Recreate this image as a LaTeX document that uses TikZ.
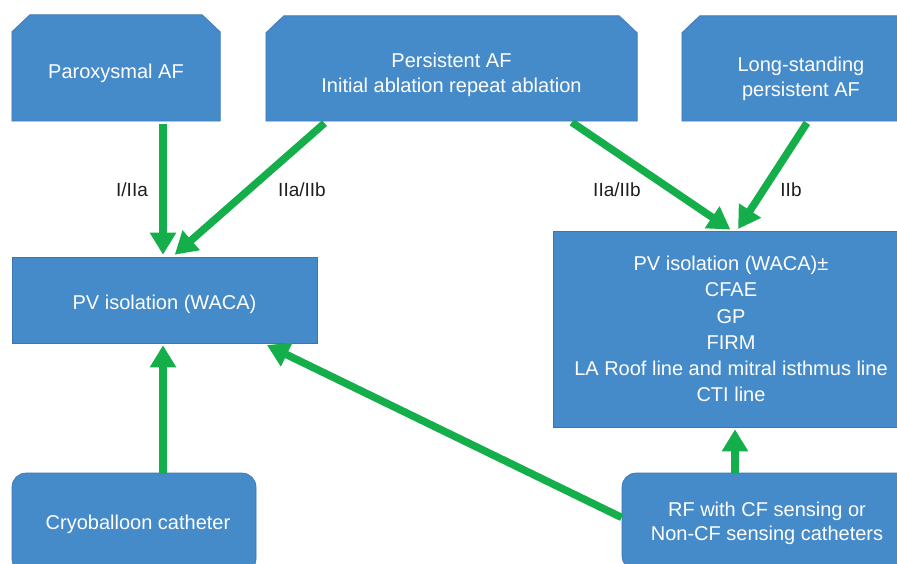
\documentclass[tikz,border=0pt]{standalone}
\usepackage{fontspec}
\setmainfont{Liberation Sans}
\usetikzlibrary{arrows.meta,calc,backgrounds}
\definecolor{boxblue}{RGB}{69,138,201}
\definecolor{boxedge}{RGB}{58,118,178}
\definecolor{arrgreen}{RGB}{20,175,75}
\definecolor{labgray}{RGB}{30,30,30}
\newcommand{\chamfbox}[1]{%
  \begin{scope}[on background layer]
    \filldraw[boxshape] (#1.south west) -- ($(#1.north west)+(0,17)$) -- ($(#1.north west)+(18,0)$)
      -- ($(#1.north east)+(-18,0)$) -- ($(#1.north east)+(0,17)$) -- (#1.south east) -- cycle;
  \end{scope}}
\begin{document}
\begin{tikzpicture}[x=1pt,y=-1pt,
  boxshape/.style={fill=boxblue,draw=boxedge,line width=0.6pt},
  txt/.style={text=white,align=center,font=\fontsize{20}{25}\selectfont,inner sep=0pt},
  plainbox/.style={boxshape,inner sep=0pt},
  roundbox/.style={txt,boxshape,rounded corners=14pt},
  arr/.style={draw=arrgreen,line width=7.5pt,-{Triangle[width=25pt,length=22pt]}},
  lab/.style={text=labgray,font=\fontsize{19}{23}\selectfont,inner sep=0pt}]
\useasboundingbox (0,0) rectangle (897,564);
\clip (0,0) rectangle (897,564);
% top row
\node[inner sep=0pt,minimum width=208pt,minimum height=106pt] (par) at (116,68) {};
\chamfbox{par}
\node[txt] (par-t) at (116,73.5) {Paroxysmal AF};
\node[inner sep=0pt,minimum width=371pt,minimum height=105pt] (per) at (451.5,68.5) {};
\chamfbox{per}
\node[txt] (per-t) at (451.5,74.5) {Persistent AF\\Initial ablation repeat ablation};
\node[inner sep=0pt,minimum width=238pt,minimum height=105pt] (lon) at (801,68.5) {};
\chamfbox{lon}
\node[txt,font=\fontsize{20}{24.5}\selectfont] (lon-t) at (801,79) {Long-standing\\persistent AF};
% middle row
\node[plainbox,minimum width=305pt,minimum height=86pt] (pv) at (164.5,300) {};
\node[txt] (pv-t) at (164.5,304) {PV isolation (WACA)};
\node[plainbox,minimum width=356pt,minimum height=196pt] (pvx) at (731,329) {};
\node[txt,font=\fontsize{20}{26.2}\selectfont] (pvx-t) at (731,329)
  {PV isolation (WACA)±\\CFAE\\GP\\FIRM\\LA Roof line and mitral isthmus line\\CTI line};
% bottom row
\node[roundbox,minimum width=244pt,minimum height=100pt] (cry) at (134,523) {};
\node[txt] (cry-t) at (138,524) {Cryoballoon catheter};
\node[roundbox,minimum width=292pt,minimum height=97pt] (rf) at (768,521.5) {};
\node[txt,font=\fontsize{20}{24}\selectfont] (rf-t) at (767,523) {RF with CF sensing or\\Non-CF sensing catheters};
% arrows
\draw[arr,shorten <=3pt,shorten >=2pt] ([xshift=47pt]par.south) -- ([xshift=-1.5pt]pv.north);
\draw[arr,shorten <=3pt,shorten >=3pt] ([xshift=61pt]per.south west) -- ([xshift=8pt]pv.north);
\draw[arr,shorten <=2pt,shorten >=2pt] ([xshift=-67pt]per.south east) -- ([xshift=1pt]pvx.north);
\draw[arr,shorten <=2pt,shorten >=2pt] ([xshift=7pt]lon.south) -- ([xshift=6pt]pvx.north);
\draw[arr,shorten >=2pt] ([xshift=29pt]cry.north) -- ([xshift=-1.5pt]pv.south);
\draw[arr,shorten >=4pt] ([yshift=4pt]rf.west) -- ([xshift=-54pt]pv.south east);
\draw[arr,shorten >=2pt] ([xshift=-33pt]rf.north) -- ([xshift=4pt]pvx.south);
% labels
\node[lab] (l1) at (132,190) {I/IIa};
\node[lab] (l2) at (302,190) {IIa/IIb};
\node[lab] (l3) at (617,190) {IIa/IIb};
\node[lab] (l4) at (791,190) {IIb};
\end{tikzpicture}
\end{document}
